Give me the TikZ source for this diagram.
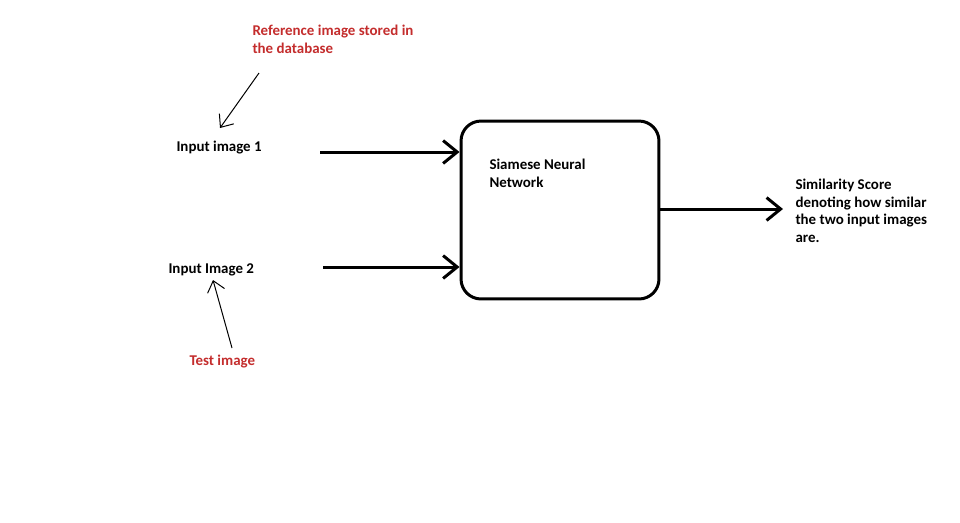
\documentclass[tikz,border=0pt]{standalone}
\usepackage{fontspec}
\setmainfont{Carlito}
\usetikzlibrary{arrows.meta}
\definecolor{notered}{RGB}{196,45,45}
\begin{document}
\begin{tikzpicture}[x=.02cm,y=-.02cm,line width=.57pt,
    font=\fontsize{8.5}{9.9}\selectfont\bfseries,
    txt/.style={anchor=base west,inner sep=0pt,align=left},
    note/.style={txt,text=notered},
    bigarrow/.style={line width=1.7pt,-{Straight Barb[length=8pt,width=13pt,line width=1.7pt]}},
    thinarrow/.style={line width=.57pt,-{Straight Barb[length=6pt,width=10pt,line width=.57pt]}}]
  \useasboundingbox[fill=white] (0,0) rectangle (960,522);
  % labels (base = last line)
  \node[note] (ref) at (252,53) {Reference image stored in\\the database};
  \node[txt] (in1) at (176,151) {Input image 1};
  \node[txt] (in2) at (168,273) {Input Image 2};
  \node[note] (test) at (189,365) {Test image};
  % network box
  \node[draw,line width=1.7pt,rounded corners=.4cm,minimum width=3.96cm,minimum height=3.56cm] (snn) at (560,210) {};
  \node[txt] (snntxt) at (489,187) {Siamese Neural\\Network};
  \node[txt] (out) at (795,242) {Similarity Score\\denoting how similar\\the two input images\\are.};
  % arrows
  \coordinate (r1) at (259,73);
  \coordinate (r2) at (220,128);
  \coordinate (t1) at (232,348);
  \coordinate (t2) at (213,280);
  \draw[thinarrow] (r1)--(r2);
  \draw[thinarrow] (t1)--(t2);
  \coordinate (a1) at (320,152);
  \coordinate (a2) at (323,267);
  \coordinate (o1) at (783,209);
  \draw[bigarrow] (a1)--(a1 -| snn.west);
  \draw[bigarrow] (a2)--(a2 -| snn.west);
  \draw[bigarrow] (snn.east |- o1)--(o1);
\end{tikzpicture}
\end{document}
